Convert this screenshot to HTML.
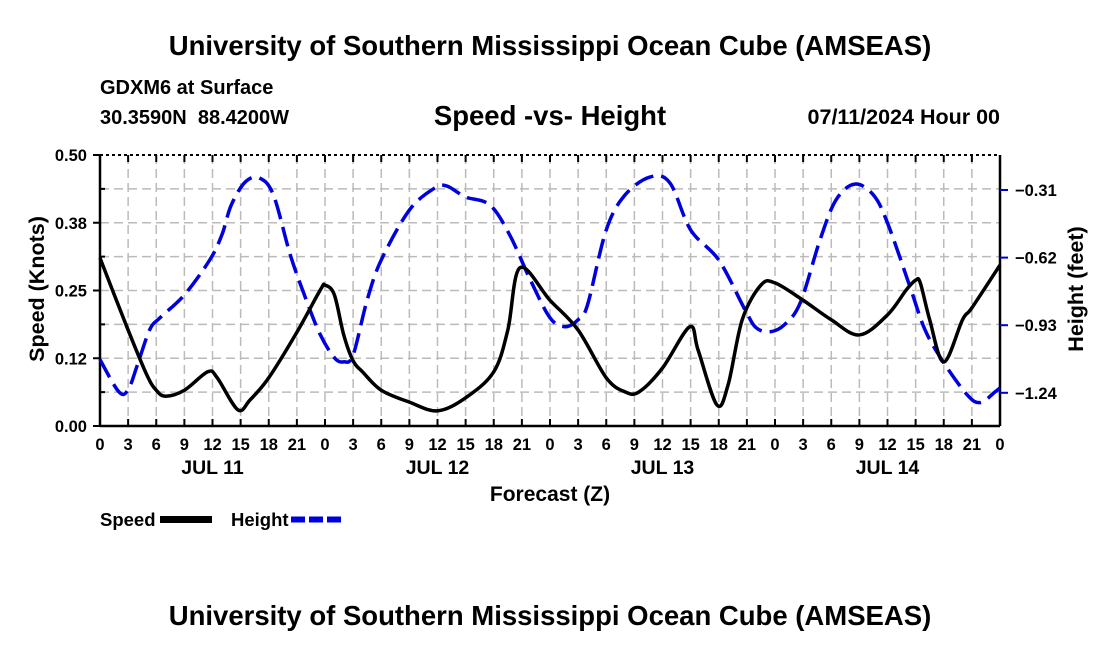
<!DOCTYPE html>
<html><head><meta charset="utf-8"><style>
body{margin:0;background:#fff;}
svg{display:block;font-family:"Liberation Sans",Arial,sans-serif;font-weight:bold;}
</style></head><body>
<svg id="chart" width="1100" height="650" viewBox="0 0 1100 650">
<text x="550" y="55" text-anchor="middle" font-size="27.5">University of Southern Mississippi Ocean Cube (AMSEAS)</text>
<text x="100" y="94" font-size="20">GDXM6 at Surface</text>
<text x="100" y="124" font-size="20" xml:space="preserve">30.3590N  88.4200W</text>
<text x="550" y="125" text-anchor="middle" font-size="27.5">Speed -vs- Height</text>
<text x="1000" y="124" text-anchor="end" font-size="21.5">07/11/2024 Hour 00</text>
<g id="grid"></g>
<g id="axes"></g>
<g id="series"></g>
<text transform="translate(44,289) rotate(-90)" text-anchor="middle" font-size="21.5">Speed (Knots)</text>
<text transform="translate(1083,289) rotate(-90)" text-anchor="middle" font-size="21.5">Height (feet)</text>
<text x="550" y="501" text-anchor="middle" font-size="21">Forecast (Z)</text>
<g>
<text x="100" y="526" font-size="18.5">Speed</text>
<rect x="160" y="516" width="52" height="7" fill="#000"/>
<text x="231" y="526" font-size="18.5">Height</text>
<line x1="291" y1="519.5" x2="342" y2="519.5" stroke="#0000dd" stroke-width="6" stroke-dasharray="14,4"/>
</g>
<text x="550" y="625" text-anchor="middle" font-size="27.5">University of Southern Mississippi Ocean Cube (AMSEAS)</text>
</svg>
<script>
const speedHours=[0,3,5,6,7,9,11.5,12.5,14.7,16,18,21,23.5,24,25,26,27,28,30,33,36,39,42,43.5,44.8,48,51,54,56,57.5,60,62.9,63.8,65.8,67,68.5,70.5,72,75,78,81,84,86,87,87.5,88.5,90,92,93,96];
const speedValues=[0.310,0.177,0.094,0.066,0.055,0.066,0.100,0.089,0.030,0.048,0.089,0.173,0.251,0.260,0.242,0.168,0.120,0.100,0.066,0.044,0.028,0.052,0.100,0.177,0.292,0.232,0.177,0.089,0.063,0.063,0.107,0.183,0.140,0.039,0.076,0.196,0.260,0.264,0.232,0.196,0.168,0.205,0.251,0.269,0.264,0.196,0.118,0.196,0.218,0.297];
const heightHours=[0,2,3,4,5.3,6.4,9,11.7,13,14,15.5,17,18.5,20.3,22,23.5,25,26,27,28.5,30,33,35.7,37,39,41.6,43.7,45.9,48,49.6,51,52,54,56,58.7,60.8,63,66,68.8,70,71.5,73,74.7,76.8,78.5,80.5,82.5,84,86.4,88,90,92.5,93.9,95.5,96];
const heightValues=[-1.088,-1.235,-1.226,-1.111,-0.951,-0.896,-0.791,-0.631,-0.516,-0.379,-0.273,-0.255,-0.333,-0.608,-0.814,-0.974,-1.079,-1.098,-1.066,-0.814,-0.631,-0.402,-0.301,-0.292,-0.342,-0.379,-0.516,-0.722,-0.896,-0.937,-0.905,-0.837,-0.493,-0.333,-0.250,-0.278,-0.493,-0.631,-0.859,-0.942,-0.960,-0.928,-0.827,-0.539,-0.356,-0.283,-0.333,-0.461,-0.754,-0.951,-1.102,-1.249,-1.285,-1.235,-1.217];
const speedTicks=[0,0.125,0.25,0.375,0.5];
const speedTickLabels=["0.00","0.12","0.25","0.38","0.50"];
const heightTicks=[-0.31,-0.62,-0.93,-1.24];
const heightTickLabels=["\u22120.31","\u22120.62","\u22120.93","\u22121.24"];
const dayLabels=["JUL 11","JUL 12","JUL 13","JUL 14"];

const X0=100,X1=1000,YT=155,YB=426;
const x=h=>X0+h/96*(X1-X0);
const yS=v=>YB-v/0.5*(YB-YT);
const yH=v=>190-(v+0.31)/0.31*67.6;
const NS="http://www.w3.org/2000/svg";
function mk(tag,attrs,parent){const e=document.createElementNS(NS,tag);for(const k in attrs)e.setAttribute(k,attrs[k]);parent.appendChild(e);return e;}
const grid=document.getElementById('grid'),axes=document.getElementById('axes'),series=document.getElementById('series');
for(let i=1;i<8;i++){const yy=YT+i*(YB-YT)/8;const l=mk('line',{x1:X0,x2:X1,y1:yy,y2:yy,stroke:'#bbb','stroke-width':1.5,'stroke-dasharray':'9,5'},grid);

}
for(let h=3;h<96;h+=3){const l=mk('line',{x1:x(h),x2:x(h),y1:YT,y2:YB,stroke:'#bbb','stroke-width':1.5,'stroke-dasharray':'9,5'},grid);

}
mk('line',{x1:X0,x2:X1,y1:YT,y2:YT,stroke:'#000','stroke-width':2,'stroke-dasharray':'3,3'},axes);
mk('line',{x1:X0,x2:X1,y1:YB,y2:YB,stroke:'#000','stroke-width':2.5},axes);
mk('line',{x1:X0,x2:X0,y1:YT,y2:YB,stroke:'#000','stroke-width':2.5},axes);
mk('line',{x1:X1,x2:X1,y1:YT,y2:YB,stroke:'#000','stroke-width':2.5},axes);
for(let h=0;h<=96;h+=3){
 mk('line',{x1:x(h),x2:x(h),y1:YB,y2:YB-7,stroke:'#000','stroke-width':2},axes);
 mk('line',{x1:x(h),x2:x(h),y1:YT,y2:YT+7,stroke:'#000','stroke-width':2},axes);
 const t=mk('text',{x:x(h),y:YB+24,'text-anchor':'middle','font-size':16.5},axes);t.textContent=String(h%24);
 
 
}
dayLabels.forEach((d,i)=>{const t=mk('text',{x:x(12+24*i),y:YB+48,'text-anchor':'middle','font-size':19.5},axes);t.textContent=d;

});
speedTicks.forEach((v,i)=>{mk('line',{x1:X0-7,x2:X0,y1:yS(v),y2:yS(v),stroke:'#000','stroke-width':2},axes);
const t=mk('text',{x:X0-13,y:yS(v)+6,'text-anchor':'end','font-size':16.5},axes);t.textContent=speedTickLabels[i];

});
for(let i=1;i<8;i+=2){const yy=YT+i*(YB-YT)/8;mk('line',{x1:X0,x2:X0+5,y1:yy,y2:yy,stroke:'#000','stroke-width':2},axes);}
heightTicks.forEach((v,i)=>{mk('line',{x1:X1,x2:X1+8,y1:yH(v),y2:yH(v),stroke:'#0000cc','stroke-width':2},axes);
const t=mk('text',{x:X1+15,y:yH(v)+6,'font-size':16.5},axes);t.textContent=heightTickLabels[i];

});
function smooth(pts){let d='M'+pts[0][0]+','+pts[0][1];
for(let i=0;i<pts.length-1;i++){const p0=pts[i-1]||pts[i],p1=pts[i],p2=pts[i+1],p3=pts[i+2]||p2;
d+=' C'+(p1[0]+(p2[0]-p0[0])/6)+','+(p1[1]+(p2[1]-p0[1])/6)+' '+(p2[0]-(p3[0]-p1[0])/6)+','+(p2[1]-(p3[1]-p1[1])/6)+' '+p2[0]+','+p2[1];}
return d;}
const hp=mk('path',{d:smooth(heightHours.map((h,i)=>[x(h),yH(heightValues[i])])),fill:'none',stroke:'#0000dd','stroke-width':3.5,'stroke-dasharray':'20,8'},series);


const sp=mk('path',{d:smooth(speedHours.map((h,i)=>[x(h),yS(speedValues[i])])),fill:'none',stroke:'#000','stroke-width':3.5,'stroke-linejoin':'round'},series);


</script>
</body></html>
